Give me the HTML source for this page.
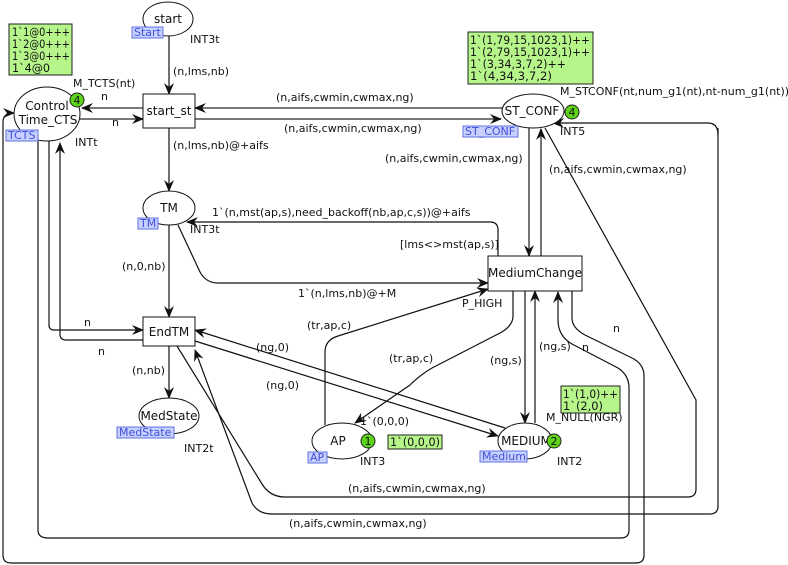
<!DOCTYPE html>
<html><head><meta charset="utf-8">
<style>
html,body{margin:0;padding:0;background:#fff;}
svg{display:block;}
text{font-family:"DejaVu Sans","Liberation Sans",sans-serif;font-size:11px;fill:#111;}
.t{font-size:12px;}
.tag{fill:#c8d0ff;stroke:#6070e0;stroke-width:1;}
.tagt{fill:#4050d8;font-size:11px;}
.mk{fill:#b6f58a;stroke:#222;stroke-width:1;}
.mkt{font-family:"DejaVu Sans","Liberation Sans",sans-serif;font-size:11.5px;}
.e{fill:none;stroke:#111;stroke-width:1.2;}
.g{fill:none;stroke:#666;stroke-width:1.8;}
</style></head><body>
<svg width="788" height="565" viewBox="0 0 788 565" xmlns="http://www.w3.org/2000/svg">
<defs>
<marker id="a" viewBox="0 0 12 10" refX="11" refY="5" markerWidth="12" markerHeight="10" markerUnits="userSpaceOnUse" orient="auto">
<path d="M0,0 L12,5 L0,10 L4,5 Z" fill="#111"/>
</marker>
</defs>

<!-- arcs -->
<line class="e" x1="169" y1="36" x2="169" y2="94" marker-end="url(#a)"/>
<line class="g" x1="143" y1="108" x2="82" y2="108" marker-end="url(#a)"/>
<line class="g" x1="80" y1="119" x2="143" y2="119" marker-end="url(#a)"/>
<line class="g" x1="502" y1="108" x2="195" y2="108" marker-end="url(#a)"/>
<line class="g" x1="195" y1="119" x2="501" y2="119" marker-end="url(#a)"/>
<line class="e" x1="169" y1="128" x2="169" y2="191" marker-end="url(#a)"/>
<line class="e" x1="169" y1="225" x2="169" y2="317" marker-end="url(#a)"/>
<path class="e" d="M178,225 L200,272 Q206,283 218,283 L488,283" marker-end="url(#a)"/>
<path class="e" d="M498,256 L498,230 Q498,222 490,222 L187,222" marker-end="url(#a)"/>
<path class="e" d="M325,425 L325,352 Q325,340 338,336 L488,289" marker-end="url(#a)"/>
<path class="e" d="M513,291 L513,316 Q513,326 500,333 L432,368 Q420,375 410,385 L355,423" marker-end="url(#a)"/>
<line class="e" x1="525" y1="291" x2="525" y2="423" marker-end="url(#a)"/>
<line class="e" x1="535" y1="423" x2="535" y2="291" marker-end="url(#a)"/>
<line class="e" x1="169" y1="346" x2="169" y2="398" marker-end="url(#a)"/>
<path class="e" d="M49,141 L49,325 Q49,330 54,330 L143,330" marker-end="url(#a)"/>
<path class="e" d="M143,340 L66,340 Q60,340 60,334 L60,143" marker-end="url(#a)"/>
<line class="e" x1="505" y1="428" x2="195" y2="330" marker-end="url(#a)"/>
<line class="e" x1="195" y1="341" x2="498" y2="436" marker-end="url(#a)"/>
<line class="g" x1="529" y1="128" x2="529" y2="256" marker-end="url(#a)"/>
<line class="g" x1="541" y1="256" x2="541" y2="129" marker-end="url(#a)"/>
<path class="e" d="M177,346 L262,484 Q270,497 285,497 L688,497 Q696,497 696,489 L696,400 L545,128"/>
<path class="e" d="M718,128 L718,506 Q718,514 710,514 L272,514 Q258,514 252,503 L195,350" marker-end="url(#a)"/>
<path class="e" d="M718,135 Q718,123 708,123 L553,123" marker-end="url(#a)"/>
<path class="e" d="M38,141 L38,530 Q38,538 48,538 L621,538 Q629,538 629,530 L629,388 Q629,375 618,368 L572,344 Q558,336 558,320 L558,292" marker-end="url(#a)"/>
<path class="e" d="M572,291 L572,318 Q572,328 585,335 L632,358 Q644,364 644,376 L644,555 Q644,563 636,563 L11,563 Q3,563 3,555 L3,122 Q3,113 14,113" marker-end="url(#a)"/>

<!-- places -->
<ellipse cx="168" cy="19" rx="25" ry="17" fill="#fff" stroke="#111"/>
<text class="t" x="168" y="23" text-anchor="middle">start</text>
<rect class="tag" x="132" y="27" width="31" height="11"/><text class="tagt" x="134" y="36">Start</text>
<text x="190" y="43">INT3t</text>

<ellipse cx="47" cy="114" rx="33" ry="27" fill="#fff" stroke="#111"/>
<text class="t" x="47" y="110" text-anchor="middle">Control</text>
<text class="t" x="48" y="124" text-anchor="middle">Time_CTS</text>
<circle cx="77" cy="100" r="7" fill="#5dd31a" stroke="#222"/><text x="77" y="104" text-anchor="middle">4</text>
<rect class="tag" x="6" y="130" width="32" height="11"/><text class="tagt" x="8" y="139">TCTS</text>
<text x="75" y="146">INTt</text>
<text x="73" y="87">M_TCTS(nt)</text>
<rect class="mk" x="9" y="24" width="63" height="51"/>
<text class="mkt" x="12" y="36" textLength="58" lengthAdjust="spacingAndGlyphs">1`1@0+++</text><text class="mkt" x="12" y="48" textLength="58" lengthAdjust="spacingAndGlyphs">1`2@0+++</text>
<text class="mkt" x="12" y="60" textLength="58" lengthAdjust="spacingAndGlyphs">1`3@0+++</text><text class="mkt" x="12" y="72" textLength="38" lengthAdjust="spacingAndGlyphs">1`4@0</text>

<ellipse cx="533" cy="111" rx="31" ry="17" fill="#fff" stroke="#111"/>
<text class="t" x="532" y="115" text-anchor="middle">ST_CONF</text>
<circle cx="572" cy="112" r="7" fill="#5dd31a" stroke="#222"/><text x="572" y="116" text-anchor="middle">4</text>
<rect class="tag" x="463" y="126" width="55" height="11"/><text class="tagt" x="465" y="135">ST_CONF</text>
<text x="560" y="135">INT5</text>
<text x="560" y="95">M_STCONF(nt,num_g1(nt),nt-num_g1(nt))</text>
<rect class="mk" x="468" y="32" width="125" height="52"/>
<text class="mkt" x="470" y="44" textLength="120" lengthAdjust="spacingAndGlyphs">1`(1,79,15,1023,1)++</text><text class="mkt" x="470" y="56" textLength="120" lengthAdjust="spacingAndGlyphs">1`(2,79,15,1023,1)++</text>
<text class="mkt" x="470" y="68" textLength="96" lengthAdjust="spacingAndGlyphs">1`(3,34,3,7,2)++</text><text class="mkt" x="470" y="80" textLength="82" lengthAdjust="spacingAndGlyphs">1`(4,34,3,7,2)</text>

<ellipse cx="169" cy="208" rx="26" ry="17" fill="#fff" stroke="#111"/>
<text class="t" x="169" y="212" text-anchor="middle">TM</text>
<rect class="tag" x="138" y="218" width="20" height="11"/><text class="tagt" x="140" y="227">TM</text>
<text x="190" y="233">INT3t</text>

<ellipse cx="169" cy="416" rx="30" ry="18" fill="#fff" stroke="#111"/>
<text class="t" x="169" y="420" text-anchor="middle">MedState</text>
<rect class="tag" x="117" y="427" width="57" height="11"/><text class="tagt" x="119" y="436">MedState</text>
<text x="184" y="452">INT2t</text>

<ellipse cx="342" cy="441" rx="30" ry="18" fill="#fff" stroke="#111"/>
<text class="t" x="338" y="445" text-anchor="middle">AP</text>
<circle cx="368" cy="441" r="7" fill="#5dd31a" stroke="#222"/><text x="368" y="445" text-anchor="middle">1</text>
<rect class="tag" x="308" y="452" width="19" height="11"/><text class="tagt" x="310" y="461">AP</text>
<text x="360" y="465">INT3</text>
<rect class="mk" x="388" y="435" width="54" height="14"/><text class="mkt" x="390" y="446" textLength="50" lengthAdjust="spacingAndGlyphs">1`(0,0,0)</text>
<text x="360" y="425">1`(0,0,0)</text>

<ellipse cx="525" cy="441" rx="27" ry="18" fill="#fff" stroke="#111"/>
<text class="t" x="526" y="445" text-anchor="middle">MEDIUM</text>
<circle cx="554" cy="441" r="7" fill="#5dd31a" stroke="#222"/><text x="554" y="445" text-anchor="middle">2</text>
<rect class="tag" x="480" y="451" width="47" height="11"/><text class="tagt" x="482" y="460">Medium</text>
<text x="557" y="465">INT2</text>
<text x="546" y="421">M_NULL(NGR)</text>
<rect class="mk" x="561" y="386" width="59" height="27"/>
<text class="mkt" x="563" y="398" textLength="55" lengthAdjust="spacingAndGlyphs">1`(1,0)++</text><text class="mkt" x="563" y="410" textLength="40" lengthAdjust="spacingAndGlyphs">1`(2,0)</text>

<!-- transitions -->
<rect x="143" y="94" width="52" height="34" fill="#fff" stroke="#111"/>
<text class="t" x="169" y="115" text-anchor="middle">start_st</text>
<rect x="143" y="317" width="52" height="29" fill="#fff" stroke="#111"/>
<text class="t" x="169" y="336" text-anchor="middle">EndTM</text>
<rect x="488" y="256" width="94" height="35" fill="#fff" stroke="#111"/>
<text class="t" x="535" y="277" text-anchor="middle">MediumChange</text>

<!-- arc labels -->
<text x="173" y="75">(n,lms,nb)</text>
<text x="101" y="100">n</text>
<text x="112" y="126">n</text>
<text x="276" y="101">(n,aifs,cwmin,cwmax,ng)</text>
<text x="284" y="132">(n,aifs,cwmin,cwmax,ng)</text>
<text x="173" y="149">(n,lms,nb)@+aifs</text>
<text x="385" y="162">(n,aifs,cwmin,cwmax,ng)</text>
<text x="549" y="173">(n,aifs,cwmin,cwmax,ng)</text>
<text x="212" y="216">1`(n,mst(ap,s),need_backoff(nb,ap,c,s))@+aifs</text>
<text x="400" y="248">[lms&lt;&gt;mst(ap,s)]</text>
<text x="122" y="270">(n,0,nb)</text>
<text x="298" y="297">1`(n,lms,nb)@+M</text>
<text x="462" y="307">P_HIGH</text>
<text x="307" y="329">(tr,ap,c)</text>
<text x="389" y="362">(tr,ap,c)</text>
<text x="490" y="364">(ng,s)</text>
<text x="539" y="350">(ng,s)</text>
<text x="582" y="351">n</text>
<text x="613" y="332">n</text>
<text x="84" y="326">n</text>
<text x="98" y="355">n</text>
<text x="256" y="351">(ng,0)</text>
<text x="266" y="389">(ng,0)</text>
<text x="132" y="374">(n,nb)</text>
<text x="348" y="492">(n,aifs,cwmin,cwmax,ng)</text>
<text x="289" y="527">(n,aifs,cwmin,cwmax,ng)</text>
</svg>
</body></html>
